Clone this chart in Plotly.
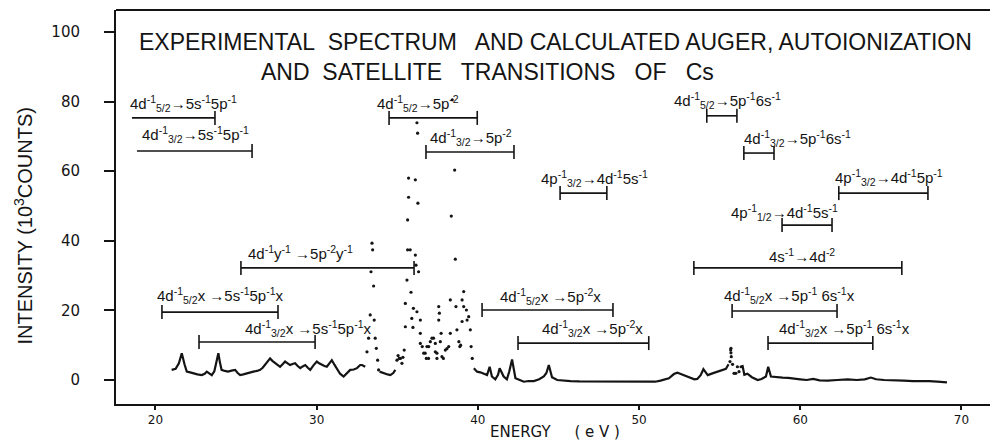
import plotly.graph_objects as go

# ---------------- data ----------------
# continuous (line-drawn) part of the spectrum; None separates segments
base_energy = [21.0, 21.25, 21.45, 21.63, 21.8, 21.94, 22.15, 22.35, 22.6, 22.87, 23.05, 23.18, 23.35, 23.49,
               23.65, 23.8, 23.9, 24.0, 24.1, 24.3, 24.5, 24.72, 24.94, 25.1, 25.25, 25.45, 25.66, 25.85, 26.07,
               26.3, 26.49, 26.65, 26.8, 26.95, 27.11, 27.25, 27.42, 27.57, 27.73, 27.9, 28.04, 28.2, 28.35, 28.5,
               28.66, 28.82, 28.98, 29.13, 29.29, 29.45, 29.6, 29.8, 30.01, 30.15, 30.32, 30.48, 30.63, 30.78,
               30.94, 31.1, 31.25, 31.45, 31.67, 31.87, 32.08, 32.3, 32.5, 32.7, 32.81, 33.01, None,
               33.9, 34.15, 34.4, 34.57, 34.75, 34.88, None,
               39.75, 39.95, 40.15, 40.36, 40.57, 40.73, 40.87, 41.08, 41.25, 41.35, 41.48, 41.6, 41.8, 41.95,
               42.12, 42.2, 42.33, 42.6, 42.85, 43.15, 43.47, 43.8, 44.09, 44.25, 44.4, 44.5, 44.6, 44.92, 45.3,
               45.75, 46.3, 46.8, 47.4, 48.0, 48.6, 49.2, 49.8, 50.4, 51.0, 51.33, 51.6, 51.85, 52.16, 52.37,
               52.55, 52.78, 53.0, 53.2, 53.43, 53.61, 53.82, 53.99, 54.1, 54.26, 54.55, 54.86, 55.15, 55.39,
               55.55, None,
               56.41, 56.53, 56.72, 57.0, 57.36, 57.6, 57.87, 58.01, 58.18, 58.5, 58.9, 59.25, 59.63, 60.0,
               60.4, 60.8, 61.2, 61.7, 62.3, 62.94, 63.5, 64.0, 64.38, 64.7, 65.2, 65.83, 66.4, 67.0, 67.48,
               68.0, 68.5, 69.1]
base_counts = [2.9, 3.2, 4.8, 7.7, 4.5, 2.4, 2.2, 1.9, 1.6, 1.4, 1.8, 2.4, 1.8, 1.4,
               2.5, 5.5, 7.7, 5.0, 2.9, 2.6, 2.4, 2.7, 2.9, 2.0, 1.4, 1.6, 1.9, 2.2, 2.4,
               2.6, 2.9, 3.5, 4.3, 5.3, 6.2, 5.5, 4.8, 4.2, 3.8, 4.6, 5.3, 4.8, 4.3, 4.6,
               4.8, 4.0, 3.4, 3.9, 4.3, 3.5, 2.9, 4.2, 5.3, 4.8, 4.3, 4.0, 3.8, 4.8,
               5.7, 4.4, 3.4, 1.8, 1.0, 2.0, 2.9, 3.0, 3.4, 4.3, 4.3, 3.8, None,
               2.4, 1.9, 1.6, 1.4, 2.0, 2.9, None,
               3.4, 2.4, 2.2, 1.9, 1.4, 3.8, 1.0, 0.2, 1.5, 3.4, 1.9, 1.0, 0.2, 2.5,
               5.9, 3.4, 0.5, 0.0, -0.5, -0.3, -0.3, 0.2, 1.0, 2.0, 4.3, 2.5, 0.8, 0.0, -0.2,
               -0.3, -0.4, -0.4, -0.5, -0.4, -0.5, -0.5, -0.5, -0.6, -0.5, -0.2, 0.2, 0.5, 1.7, 2.1,
               1.8, 1.4, 0.9, 0.5, 0.2, 0.3, 1.4, 3.1, 2.4, 1.4, 1.9, 2.4, 2.8, 3.2,
               4.5, None,
               4.3, 1.5, 1.8, 0.8, 0.0, 0.3, 1.0, 3.8, 1.0, 0.8, 0.7, 0.6, 0.5, 0.2,
               0.0, 0.3, -0.1, -0.2, 0.0, 0.2, 0.0, 0.2, 0.7, 0.2, 0.0, -0.2, -0.2, -0.3, -0.2,
               -0.3, -0.5, -0.7]

# individually plotted points (dotted parts of the spectrum)
dot_energy = [33.12, 33.22, 33.32, 33.37, 33.43, 33.47, 33.53, 33.57, 33.63, 33.7, 33.78, 33.84,
              34.98, 35.05, 35.12, 35.19, 35.29, 35.35, 35.43, 35.5, 35.5, 35.6, 35.64, 35.64, 35.7, 35.7,
              35.8, 35.85, 35.9, 35.97, 36.0, 36.12, 36.12, 36.16, 36.22, 36.26, 36.28, 36.22, 36.32,
              36.43, 36.43, 36.43, 36.55, 36.64, 36.73, 36.8, 36.84, 36.94, 36.95, 37.05, 37.15, 37.25,
              37.36, 37.36, 37.46, 37.46, 37.57, 37.57, 37.61, 37.67, 37.72, 37.77, 37.86, 37.98, 38.08,
              38.19, 38.29, 38.29, 38.35, 38.41, 38.56, 38.6, 38.64, 38.7, 38.82, 38.88, 38.93, 39.02,
              39.02, 39.12, 39.12, 39.29, 39.33, 39.43, 39.53, 39.58, 39.65,
              55.64, 55.68, 55.7, 55.7, 55.72, 55.8, 55.89, 56.0, 56.1, 56.2, 56.33]
dot_counts = [8.1, 12.0, 18.7, 31.1, 39.3, 37.4, 27.0, 17.2, 12.0, 9.1, 5.7, 2.9,
              5.7, 7.0, 6.2, 6.2, 4.8, 6.5, 8.6, 15.3, 22.0, 28.7, 37.4, 46.0, 52.5, 58.0,
              37.4, 25.2, 17.7, 15.1, 20.6, 57.5, 35.9, 33.0, 73.9, 70.9, 50.8, 19.6, 31.1,
              17.2, 13.4, 10.5, 9.6, 7.7, 7.7, 6.2, 9.6, 6.2, 9.6, 11.0, 12.0, 12.0,
              8.1, 10.5, 6.2, 7.7, 21.1, 17.2, 19.2, 11.0, 13.4, 6.7, 6.2, 8.6, 9.0,
              9.6, 13.4, 23.0, 47.1, 80.5, 60.3, 34.7, 21.1, 14.4, 11.0, 9.6, 10.0, 16.8,
              23.0, 25.4, 21.1, 20.1, 17.2, 18.2, 14.4, 9.6, 6.2,
              5.3, 8.6, 9.1, 7.8, 6.7, 4.5, 1.9, 1.9, 3.8, 2.4, 3.8]

# calculated transition ranges: label, start energy, end energy, level, left cap drawn
labels = [
    "4d<sup>-1</sup><sub>5/2</sub>→5s<sup>-1</sup>5p<sup>-1</sup>",
    "4d<sup>-1</sup><sub>3/2</sub>→5s<sup>-1</sup>5p<sup>-1</sup>",
    "4d<sup>-1</sup><sub>5/2</sub>→5p<sup>-2</sup>",
    "4d<sup>-1</sup><sub>3/2</sub>→5p<sup>-2</sup>",
    "4p<sup>-1</sup><sub>3/2</sub>→4d<sup>-1</sup>5s<sup>-1</sup>",
    "4d<sup>-1</sup><sub>5/2</sub>→5p<sup>-1</sup>6s<sup>-1</sup>",
    "4d<sup>-1</sup><sub>3/2</sub>→5p<sup>-1</sup>6s<sup>-1</sup>",
    "4p<sup>-1</sup><sub>3/2</sub>→4d<sup>-1</sup>5p<sup>-1</sup>",
    "4p<sup>-1</sup><sub>1/2</sub>→4d<sup>-1</sup>5s<sup>-1</sup>",
    "4s<sup>-1</sup>→4d<sup>-2</sup>",
    "4d<sup>-1</sup><sub>5/2</sub>x →5p<sup>-1</sup> 6s<sup>-1</sup>x",
    "4d<sup>-1</sup><sub>3/2</sub>x →5p<sup>-1</sup> 6s<sup>-1</sup>x",
    "4d<sup>-1</sup>y<sup>-1</sup> →5p<sup>-2</sup>y<sup>-1</sup>",
    "4d<sup>-1</sup><sub>5/2</sub>x →5s<sup>-1</sup>5p<sup>-1</sup>x",
    "4d<sup>-1</sup><sub>3/2</sub>x →5s<sup>-1</sup>5p<sup>-1</sup>x",
    "4d<sup>-1</sup><sub>5/2</sub>x →5p<sup>-2</sup>x",
    "4d<sup>-1</sup><sub>3/2</sub>x →5p<sup>-2</sup>x",
]
range_start = [18.54, 18.85, 34.49, 36.78, 45.1, 54.2, 56.5, 62.39, 58.87, 53.4, 55.77, 58.0, 25.3, 20.4, 22.7, 40.26, 42.49]
range_end = [23.69, 25.99, 39.96, 42.24, 48.0, 56.07, 58.37, 67.92, 61.97, 66.3, 62.28, 64.5, 36.04, 27.6, 29.9, 48.38, 50.6]
range_level = [75.3, 65.8, 75.3, 65.5, 53.7, 75.9, 65.2, 53.7, 44.5, 32.2, 19.8, 10.6, 32.2, 19.5, 10.9, 20.1, 10.6]
left_cap = [False, False, True, True, True, True, True, True, True, True, True, True, True, True, True, True, True]
label_x = [18.3, 19.04, 33.62, 36.9, 43.79, 52.04, 56.38, 62.03, 55.58, 57.93, 55.14, 58.55, 25.61, 19.97, 25.43, 41.25, 43.85]
label_y = [79.3, 70.4, 79.3, 69.8, 57.8, 80.2, 69.3, 58.3, 48.0, 35.9, 24.4, 14.9, 36.5, 24.4, 14.9, 23.9, 14.7]

x_ticks = [20, 30, 40, 50, 60, 70]
y_ticks = [0, 20, 40, 60, 80, 100]

INK = "#141414"

fig = go.Figure()

fig.add_trace(go.Scatter(x=base_energy, y=base_counts, mode="lines",
                         line=dict(color=INK, width=2.2), connectgaps=False,
                         hoverinfo="skip", showlegend=False))
fig.add_trace(go.Scatter(x=dot_energy, y=dot_counts, mode="markers",
                         marker=dict(color=INK, size=3.2), hoverinfo="skip", showlegend=False))

# range bars
bx, by = [], []
for s, e, lv in zip(range_start, range_end, range_level):
    bx += [s, e, None]
    by += [lv, lv, None]
fig.add_trace(go.Scatter(x=bx, y=by, mode="lines", line=dict(color=INK, width=1.6),
                         hoverinfo="skip", showlegend=False))
cx, cy = [], []
for s, e, lv, lc in zip(range_start, range_end, range_level, left_cap):
    if lc:
        cx.append(s); cy.append(lv)
    cx.append(e); cy.append(lv)
fig.add_trace(go.Scatter(x=cx, y=cy, mode="markers",
                         marker=dict(symbol="line-ns", size=10, line=dict(color=INK, width=1.6)),
                         hoverinfo="skip", showlegend=False))

label_font = dict(family="Liberation Sans", size=15, color=INK)
for t, lx, ly in zip(labels, label_x, label_y):
    fig.add_annotation(x=lx, y=ly, xref="x", yref="y", text=t, showarrow=False,
                       xanchor="left", yanchor="middle", font=label_font)

title_font = dict(family="Liberation Sans", size=23, color=INK)
fig.add_annotation(xref="paper", yref="paper", x=0.024, y=0.919,
                   text="EXPERIMENTAL&nbsp; SPECTRUM&nbsp;&nbsp; AND CALCULATED AUGER, AUTOIONIZATION",
                   showarrow=False, xanchor="left", yanchor="middle", font=title_font)
fig.add_annotation(xref="paper", yref="paper", x=0.4245, y=0.843,
                   text="AND&nbsp; SATELLITE&nbsp;&nbsp; TRANSITIONS&nbsp;&nbsp; OF&nbsp;&nbsp; Cs",
                   showarrow=False, xanchor="center", yanchor="middle", font=title_font)

fig.add_annotation(xref="paper", yref="paper", x=-0.1064, y=0.4505,
                   text="INTENSITY (10<sup>3</sup>COUNTS)", textangle=-90,
                   showarrow=False, xanchor="center", yanchor="middle",
                   font=dict(family="Liberation Sans", size=20, color=INK))
fig.add_annotation(xref="paper", yref="paper", x=0.502, y=-0.072,
                   text="ENERGY&nbsp;&nbsp;&nbsp;&nbsp; ( e V )",
                   showarrow=False, xanchor="center", yanchor="middle",
                   font=dict(family="DejaVu Sans", size=15, color=INK))

# top frame line
fig.add_shape(type="line", xref="paper", yref="paper", x0=0, x1=1.0, y0=1, y1=1,
              line=dict(color=INK, width=2))

fig.update_layout(
    width=993, height=442,
    margin=dict(l=116, r=3, t=10, b=38),
    paper_bgcolor="white", plot_bgcolor="white",
    xaxis=dict(range=[17.55, 71.77], tickvals=x_ticks, ticks="outside", ticklen=4, tickwidth=1.5,
               tickcolor=INK, showline=True, linecolor=INK, linewidth=2, showgrid=False,
               zeroline=False,
               tickfont=dict(family="DejaVu Sans", size=12, color=INK)),
    yaxis=dict(range=[-6.9, 106.3], tickvals=y_ticks, ticks="outside", ticklen=10, tickwidth=1.5,
               tickcolor=INK, showline=True, linecolor=INK, linewidth=2, showgrid=False,
               zeroline=False, ticklabelstandoff=21,
               tickfont=dict(family="DejaVu Sans", size=15, color=INK)),
)

fig.write_html("out.html", config={"displayModeBar": False},
               post_script="document.body.style.margin='0';document.body.style.padding='0';")
